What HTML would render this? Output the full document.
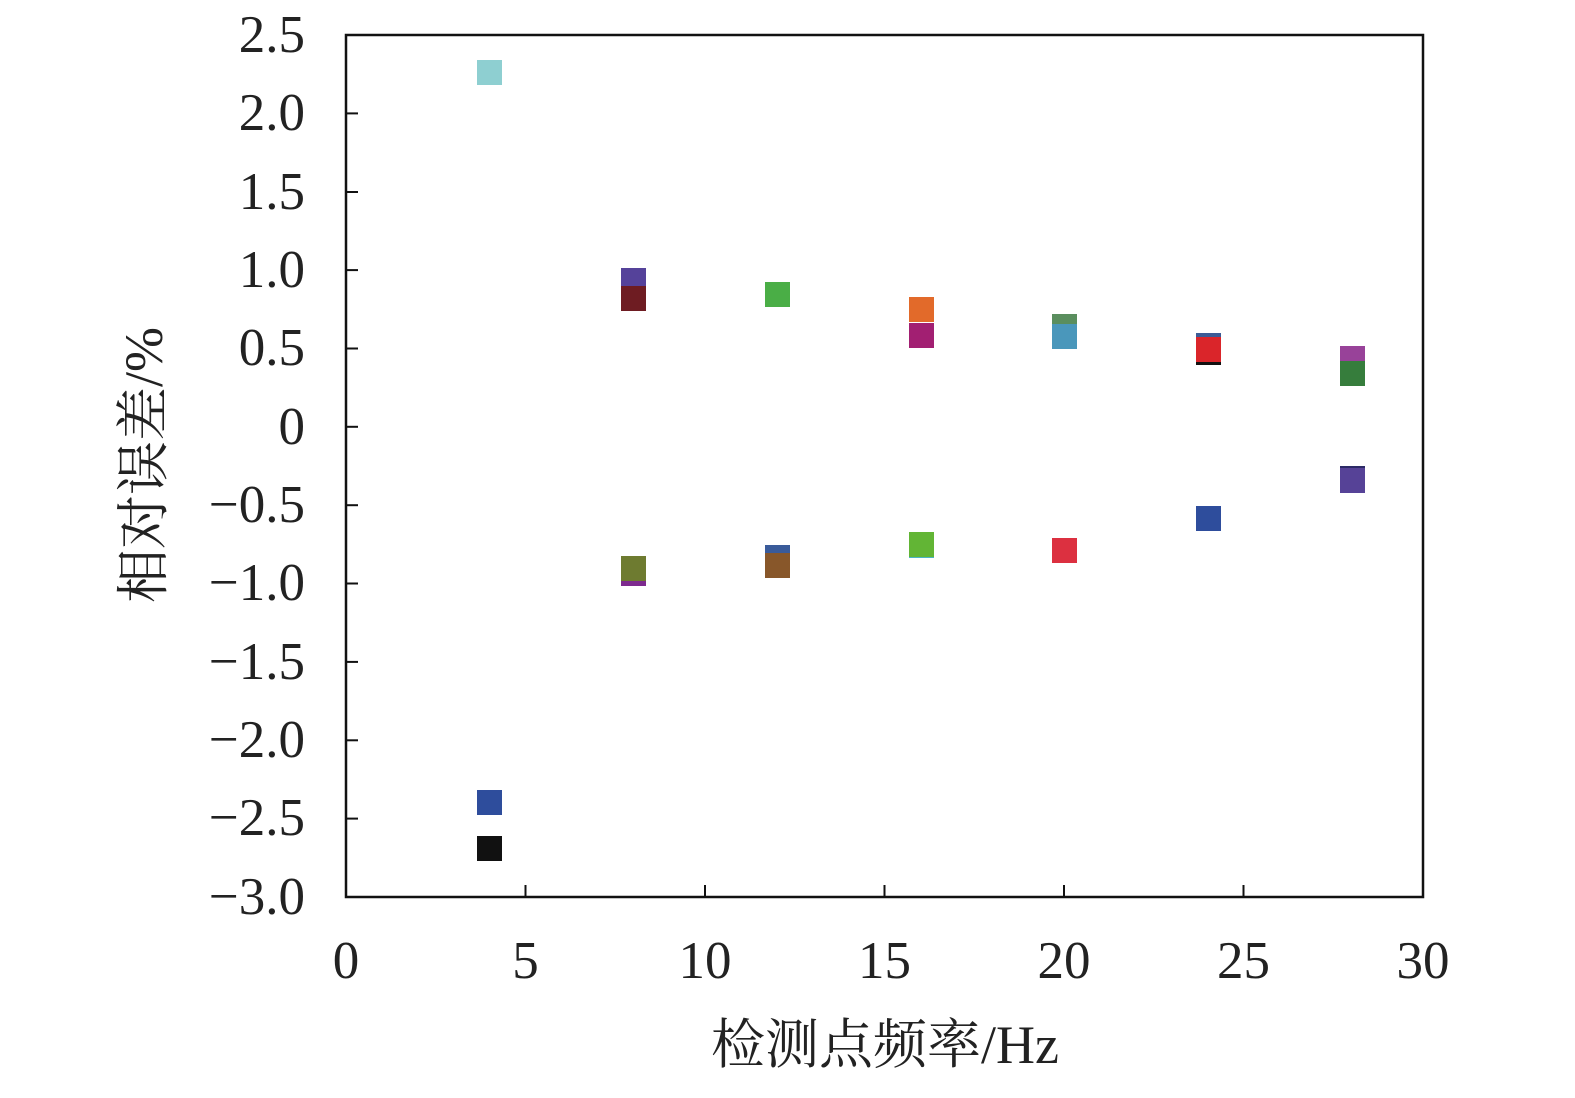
<!DOCTYPE html>
<html><head><meta charset="utf-8"><style>
html,body{margin:0;padding:0;background:#fff;}
</style></head><body>
<svg width="1575" height="1093" viewBox="0 0 1575 1093" xmlns="http://www.w3.org/2000/svg" font-family="'Liberation Serif','Noto Serif CJK SC',serif">
<rect x="346" y="35" width="1077" height="862" fill="none" stroke="#111" stroke-width="2.5"/>
<g stroke="#111" stroke-width="2">
<line x1="346" y1="113.4" x2="358" y2="113.4"/><line x1="346" y1="192" x2="358" y2="192"/>
<line x1="346" y1="270.1" x2="358" y2="270.1"/><line x1="346" y1="348.5" x2="358" y2="348.5"/>
<line x1="346" y1="426.8" x2="358" y2="426.8"/><line x1="346" y1="505.2" x2="358" y2="505.2"/>
<line x1="346" y1="583.5" x2="358" y2="583.5"/><line x1="346" y1="661.9" x2="358" y2="661.9"/>
<line x1="346" y1="740.3" x2="358" y2="740.3"/><line x1="346" y1="818.6" x2="358" y2="818.6"/>
<line x1="525.5" y1="897" x2="525.5" y2="885"/><line x1="705" y1="897" x2="705" y2="885"/>
<line x1="884.5" y1="897" x2="884.5" y2="885"/><line x1="1064" y1="897" x2="1064" y2="885"/>
<line x1="1243.5" y1="897" x2="1243.5" y2="885"/>
</g>
<g font-size="53" fill="#222" text-anchor="end">
<text x="305" y="52">2.5</text><text x="305" y="130">2.0</text><text x="305" y="209">1.5</text>
<text x="305" y="287">1.0</text><text x="305" y="365">0.5</text><text x="305" y="444">0</text>
<text x="305" y="522">−0.5</text><text x="305" y="600">−1.0</text><text x="305" y="679">−1.5</text>
<text x="305" y="757">−2.0</text><text x="305" y="835">−2.5</text><text x="305" y="914">−3.0</text>
</g>
<g font-size="53" fill="#222" text-anchor="middle">
<text x="346" y="978">0</text><text x="525.5" y="978">5</text><text x="705" y="978">10</text>
<text x="884.5" y="978">15</text><text x="1064" y="978">20</text><text x="1243.5" y="978">25</text>
<text x="1423" y="978">30</text>
<text x="885" y="1063" font-size="54">检测点频率/Hz</text>
<text transform="translate(162,465) rotate(-90)" font-size="54">相对误差/%</text>
</g>
<g>
<rect x="477" y="60" width="25" height="25" fill="#8ecfd1"/>
<rect x="477" y="790" width="25" height="25" fill="#2e4d9c"/>
<rect x="477" y="836" width="25" height="25" fill="#111"/>
<rect x="621" y="268" width="25" height="25" fill="#55429a"/>
<rect x="621" y="286" width="25" height="25" fill="#6e1c22"/>
<rect x="765" y="282" width="25" height="25" fill="#4aae46"/>
<rect x="909" y="297" width="25" height="25" fill="#e26a2a"/>
<rect x="909" y="323" width="25" height="25" fill="#a21f72"/>
<rect x="1052" y="314" width="25" height="25" fill="#5a8e5e"/>
<rect x="1052" y="324" width="25" height="25" fill="#4a97bb"/>
<rect x="1196" y="340" width="25" height="25" fill="#111"/>
<rect x="1196" y="333" width="25" height="25" fill="#3c5b96"/>
<rect x="1196" y="337" width="25" height="25" fill="#da252a"/>
<rect x="1340" y="346" width="25" height="25" fill="#984299"/>
<rect x="1340" y="361" width="25" height="25" fill="#367d3c"/>
<rect x="1340" y="466" width="25" height="25" fill="#2c2a66"/>
<rect x="1340" y="468" width="25" height="25" fill="#564297"/>
<rect x="621" y="561" width="25" height="25" fill="#7d2a8e"/>
<rect x="621" y="556" width="25" height="25" fill="#6e7b30"/>
<rect x="765" y="545" width="25" height="25" fill="#3a5b9a"/>
<rect x="765" y="553" width="25" height="25" fill="#88572a"/>
<rect x="909" y="533" width="25" height="25" fill="#4cb4c4"/>
<rect x="909" y="532" width="25" height="25" fill="#62b535"/>
<rect x="1052" y="538" width="25" height="25" fill="#dc3040"/>
<rect x="1196" y="506" width="25" height="25" fill="#2e4d9c"/>
</g>
</svg>
</body></html>
